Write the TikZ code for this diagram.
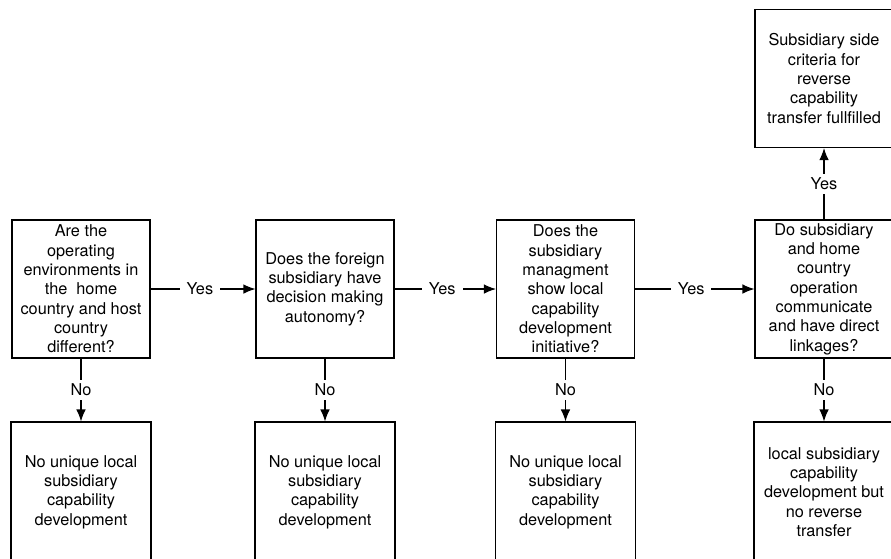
\documentclass[tikz,border=0pt]{standalone}
\usepackage{fontspec}
\setmainfont{TeX Gyre Heros}
\usepackage{tikz}
\usetikzlibrary{arrows.meta,positioning}

\begin{document}
\begin{tikzpicture}[x=1pt,y=-1pt,
  kasten/.style={draw,line width=1.1pt,minimum width=138pt,minimum height=138pt,
    inner sep=0pt,align=center,font=\fontsize{16.3}{19.3}\selectfont},
  ergebnis/.style={kasten,minimum width=140pt,minimum height=140pt},
  pfeil/.style={line width=1.1pt,-{Latex[length=12pt,width=9.5pt]}},
  marke/.style={fill=white,inner xsep=7pt,inner ysep=2pt,font=\fontsize{16.3}{18}\selectfont}]
%Seitengroesse wie im Original (891 x 558)
\useasboundingbox (0,0) rectangle (891,558);
  \pgfmathsetmacro{\yFrage}{289}
  \pgfmathsetmacro{\yEnde}{492}
%Fragen in einer Reihe
\node[kasten] (f1) at (81,\yFrage) {Are the\\operating\\environments in\\the~ home\\country and host\\country\\different?};
\node[kasten] (f2) at (325,\yFrage) {Does the foreign\\subsidiary have\\decision making\\autonomy?};
\node[kasten] (f3) at (565.5,\yFrage) {Does the\\subsidiary\\managment\\show local\\capability\\development\\initiative?};
\node[kasten] (f4) at (824,\yFrage) {Do subsidiary\\and home\\country\\operation\\communicate\\and have direct\\linkages?};
\node[kasten] (ziel) at (824,78.5) {Subsidiary side\\criteria for\\reverse\\capability\\transfer fullfilled};
%Ergebnisse unten
\foreach \i in {1,2,3}{
\node[ergebnis] (e\i) at (f\i |- 0,\yEnde) {No unique local\\subsidiary\\capability\\development};
}
\node[ergebnis] (e4) at (f4 |- 0,\yEnde) {local subsidiary\\capability\\development but\\no reverse\\transfer};
%Pfeile
\foreach \a/\b in {1/2,2/3,3/4}{
\draw[pfeil] (f\a) -- node[marke,pos=0.47] {Yes} (f\b);
}
\foreach \i in {1,...,4}{
\draw[pfeil] (f\i) -- node[marke,inner xsep=2pt,inner ysep=4pt] {No} (e\i);
}
\draw[pfeil] (f4) -- node[marke,inner xsep=2pt,inner ysep=4pt] {Yes} (ziel);
\end{tikzpicture}
\end{document}
